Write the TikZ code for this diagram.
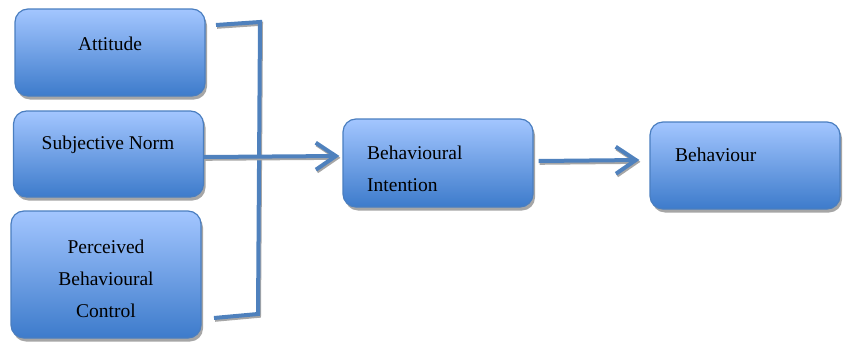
\documentclass[tikz,border=0pt]{standalone}
\usepackage{fontspec}
\setmainfont{Liberation Serif}
\usetikzlibrary{arrows.meta,shadows,positioning}
\definecolor{lineblue}{HTML}{4F81BD}
\definecolor{boxtop}{HTML}{A3C6FF}
\definecolor{boxbot}{HTML}{3D7BCB}
\definecolor{boxborder}{HTML}{4A7EC0}
\tikzset{
  box/.style={draw=boxborder, line width=1.2pt, rounded corners=13pt,
    top color=boxtop, bottom color=boxbot, minimum width=190pt,
    drop shadow={shadow xshift=2pt, shadow yshift=-3.5pt, fill=black, opacity=0.35}},
  lbl/.style={font=\fontsize{19.5}{32}\selectfont, align=center, inner sep=0pt},
  conn/.style={draw=lineblue, line width=4pt,
    preaction={draw=black!35, line width=4pt, transform canvas={xshift=1pt, yshift=-1.8pt}}},
  arr/.style={conn, -{Straight Barb[length=20pt,width=27pt]}}
}
\begin{document}
\begin{tikzpicture}[x=1pt,y=-1pt]
\useasboundingbox (0,0) rectangle (843,343);
\node[box, minimum height=87pt] (att) at (110,52.5) {};
\node[box, minimum height=86pt] (sn) at (108.5,154) {};
\node[box, minimum height=127pt] (pbc) at (106,274.5) {};
\node[box, minimum height=88pt] (bi) at (438,163) {};
\node[box, minimum height=87pt] (beh) at (745,165.5) {};

\node[lbl] (attt) at (110,44) {Attitude};
\node[lbl] (snt) at (108,145) {Subjective Norm};
\node[lbl] (pbct) at (106,279) {Perceived\\Behavioural\\Control};
\node[lbl, align=left, anchor=west] (bit) at (367,169) {Behavioural\\Intention};
\node[lbl, anchor=west] (beht) at (675,155) {Behaviour};

\coordinate (attout) at (216,25);
\coordinate (top) at (260,22);
\coordinate (bot) at (258,314);
\coordinate (pbcout) at (214,318);
\draw[conn] (attout) -- (top) -- (bot) -- (pbcout);

\draw[arr] ([yshift=-3pt]sn.east) -- ([xshift=-3pt,yshift=7pt]bi.west);
\draw[arr] ([xshift=5pt,yshift=2pt]bi.east) -- ([xshift=-10pt,yshift=5.5pt]beh.west);
\end{tikzpicture}
\end{document}
